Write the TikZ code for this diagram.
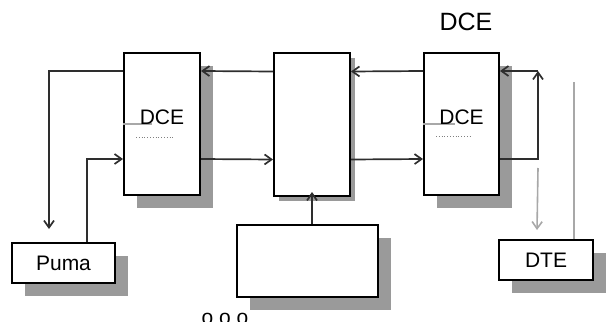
\documentclass[tikz,border=0pt]{standalone}
\usepackage{fontspec}
\setmainfont{Liberation Sans}
\usetikzlibrary{positioning, arrows.meta, shadows}
\definecolor{wiregray}{HTML}{2E2E2E}
\definecolor{palegray}{HTML}{A8A8A8}
\definecolor{shadegray}{HTML}{9A9A9A}
\tikzset{
    blockbox/.style={draw=black, line width=2pt, fill=white, inner sep=0pt,
        drop shadow={shadow xshift=#1, shadow yshift=-#1, fill=shadegray, opacity=1}},
    blockbox/.default=13pt,
    tag/.style={font=\fontsize{21}{25}\selectfont, inner sep=0pt},
    wire/.style={draw=wiregray, line width=1.7pt, -{Straight Barb[length=7pt,width=10pt]}},
    palewire/.style={draw=palegray, line width=1.6pt},
}

\begin{document}
\begin{tikzpicture}[x=1pt, y=-1pt]
    \useasboundingbox (0,0) rectangle (612,321);
    % units
    \node[blockbox, minimum width=76pt, minimum height=142pt] (dceL) at (162,124) {};
    \node[blockbox=5pt, minimum width=76pt, minimum height=143pt] (dceM) at (312,124.5) {};
    \node[blockbox, minimum width=75pt, minimum height=142pt] (dceR) at (461.5,124) {};
    \node[blockbox, tag, minimum width=103pt, minimum height=40pt] (puma) at (63.5,263) {Puma};
    \node[blockbox, minimum width=141pt, minimum height=72pt] (blank) at (307.5,261) {};
    \node[blockbox, tag, minimum width=94pt, minimum height=40pt] (dte) at (546,260) {DTE};
    % labels
    \node[tag, font=\fontsize{25}{30}\selectfont] (title) at (466,22) {DCE};
    \draw[palegray, line width=1.4pt] (dceL.west) -- ++(29,0);
    \draw[palegray, line width=1.4pt] (dceR.west) -- ++(32,0);
    \node[tag] (dceLtxt) at ([yshift=6.5pt]dceL.center) {DCE};
    \node[tag] (dceRtxt) at ([yshift=6.5pt]dceR.center) {DCE};
    \draw[gray, line width=0.8pt, dotted] ([xshift=13pt,yshift=-13pt]dceL.west) -- ++(39,0);
    \draw[gray, line width=0.8pt, dotted] ([xshift=13pt,yshift=-12pt]dceR.west) -- ++(36,0);
    \node[tag, anchor=north] (dots) at (225,313) {o o o};
    % coordinates
    \coordinate (pumaIn) at ([xshift=-14.5pt,yshift=13pt]puma.north);
    \coordinate (loopTop) at ([xshift=38pt,yshift=53pt]dceR.east);
    \coordinate (tapTop) at ([xshift=38pt,yshift=-44pt]dceR.east);
    \coordinate (dteIn) at ([xshift=-9pt,yshift=9pt]dte.north);
    \coordinate (dteUp) at ([xshift=28pt]dte.north);
    % connectors
    \draw[wire] ([yshift=53pt]dceM.west) -- ([yshift=53pt]dceL.east);
    \draw[wire] ([yshift=53pt]dceL.west) -| (pumaIn);
    \draw[wire] ([xshift=23.5pt]puma.north) |- ([yshift=-35pt]dceL.west);
    \draw[wire] ([yshift=-35pt]dceL.east) -- ([yshift=-35pt]dceM.west);
    \draw[wire] ([yshift=-35pt]dceM.east) -- ([yshift=-35pt]dceR.west);
    \draw[wire] ([yshift=53pt]dceR.west) -- ([yshift=53pt]dceM.east);
    \draw[wire, shorten >=-5pt] (dceM.south |- blank.north) -- (dceM.south);
    \draw[wire] ([yshift=-35pt]dceR.east) -| (loopTop);
    \draw[wire] (loopTop) -- ([yshift=53pt]dceR.east);
    \draw[palewire, -{Straight Barb[length=7pt,width=10pt]}] (tapTop) -- (dteIn);
    \draw[palewire] (dteUp) -- ++(0,-157);
\end{tikzpicture}
\end{document}
